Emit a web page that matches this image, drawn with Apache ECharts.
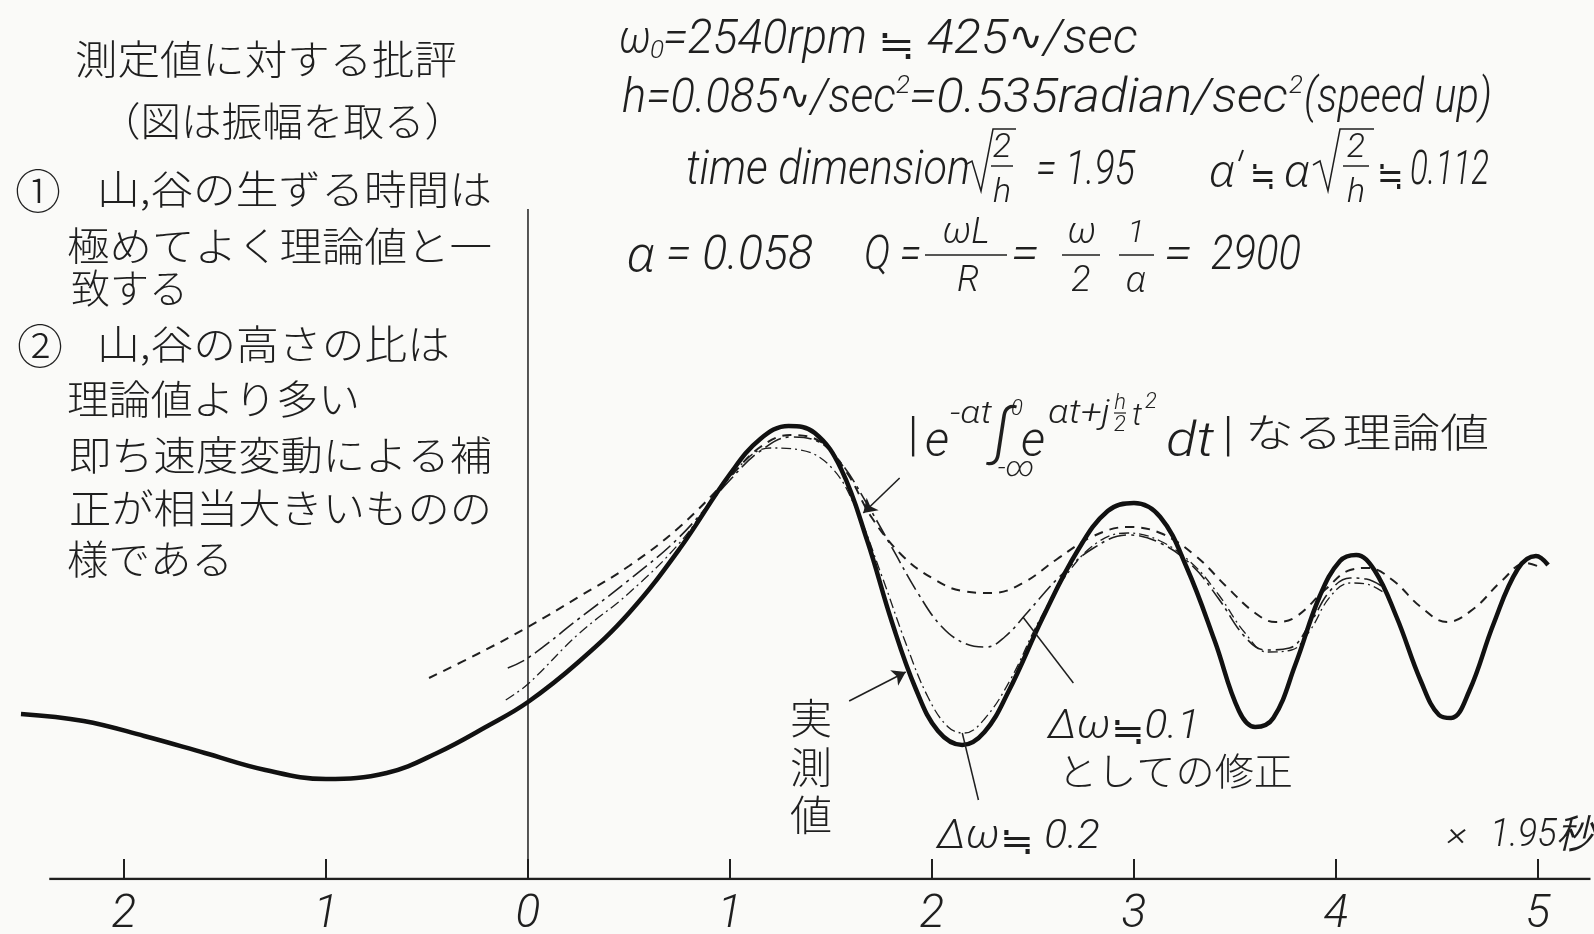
<!DOCTYPE html>
<html><head><meta charset="utf-8">
<script src="https://cdn.jsdelivr.net/npm/echarts@6/dist/echarts.min.js"></script>
<style>html,body{margin:0;padding:0;background:#fafaf8;}#c{width:1594px;height:934px;}</style>
</head><body><div id="c"></div>
<script>
// ---- data (x in units of 1.95 s, y arbitrary amplitude) ----
const xTickValues = [-2, -1, 0, 1, 2, 3, 4, 5];
const measured = [[-2.51,1.65],[-2.20,1.58],[-1.90,1.43],[-1.60,1.26],[-1.30,1.09],[-1.00,1.00],[-0.70,1.06],[-0.45,1.26],[-0.20,1.53],[0.00,1.77],[0.25,2.17],[0.50,2.66],[0.75,3.30],[1.00,4.05],[1.15,4.40],[1.29,4.53],[1.42,4.46],[1.55,4.10],[1.68,3.38],[1.80,2.58],[1.92,1.90],[2.03,1.48],[2.15,1.34],[2.26,1.47],[2.38,1.88],[2.55,2.62],[2.72,3.28],[2.87,3.68],[3.00,3.76],[3.13,3.62],[3.26,3.12],[3.40,2.38],[3.52,1.68],[3.60,1.52],[3.69,1.61],[3.80,2.15],[3.92,2.83],[4.02,3.18],[4.10,3.24],[4.19,3.09],[4.30,2.62],[4.42,1.98],[4.51,1.64],[4.57,1.61],[4.66,1.88],[4.78,2.55],[4.90,3.10],[4.99,3.23],[5.05,3.14]];
const theory = [[-0.49,2.01],[-0.25,2.25],[0.00,2.52],[0.25,2.82],[0.50,3.13],[0.75,3.52],[1.00,4.02],[1.15,4.32],[1.30,4.44],[1.45,4.37],[1.58,4.06],[1.70,3.62],[1.85,3.24],[2.00,3.01],[2.15,2.88],[2.30,2.86],[2.45,2.96],[2.62,3.20],[2.80,3.43],[2.97,3.52],[3.13,3.46],[3.30,3.24],[3.46,2.92],[3.60,2.66],[3.70,2.57],[3.80,2.62],[3.95,2.90],[4.07,3.09],[4.16,3.11],[4.28,2.99],[4.42,2.72],[4.55,2.57],[4.68,2.70],[4.82,2.98],[4.94,3.16],[5.01,3.12]];
const corr01 = [[-0.10,2.11],[0.00,2.21],[0.25,2.60],[0.50,2.99],[0.75,3.42],[1.00,3.99],[1.15,4.28],[1.30,4.42],[1.43,4.38],[1.55,4.16],[1.67,3.78],[1.80,3.32],[1.93,2.86],[2.05,2.52],[2.17,2.35],[2.27,2.32],[2.36,2.42],[2.47,2.66],[2.63,3.02],[2.80,3.31],[2.97,3.44],[3.13,3.36],[3.29,3.13],[3.42,2.80],[3.55,2.42],[3.65,2.29],[3.77,2.31],[3.87,2.55],[3.97,2.88],[4.07,3.01],[4.15,3.00],[4.24,2.91]];
const corr02 = [[-0.11,1.79],[0.00,1.95],[0.25,2.45],[0.50,2.86],[0.75,3.36],[1.00,4.02],[1.20,4.31],[1.35,4.29],[1.50,4.12],[1.62,3.72],[1.75,3.04],[1.87,2.36],[1.98,1.82],[2.08,1.52],[2.16,1.46],[2.26,1.60],[2.39,2.00],[2.53,2.58],[2.68,3.08],[2.83,3.38],[2.97,3.46],[3.13,3.38],[3.29,3.15],[3.42,2.84],[3.55,2.46],[3.66,2.27],[3.78,2.29],[3.87,2.48],[3.97,2.82],[4.07,2.96],[4.15,2.95],[4.24,2.86]];
const baseLine = [[-2.37,0],[5.26,0]];
const zeroLine = [[0,0],[0,6.70]];
const leaderTheory = [[1.84,4.01],[1.66,3.66]];
const leaderMeasured = [[1.59,1.78],[1.87,2.07]];
const leader01 = [[2.70,1.96],[2.45,2.62]];
const leader02 = [[2.23,0.79],[2.15,1.46]];

// ---- text helpers ----
const INK = '#1f1f1f';
const LAT = 'Roboto, "Noto Sans", sans-serif';
const NS = '"Noto Sans", Roboto, sans-serif';
const DV = '"DejaVu Sans", sans-serif';
const JP = '"Noto Sans CJK JP", sans-serif';
const mctx = document.createElement('canvas').getContext('2d');
function fontStr(size, fam, italic, weight) {
  return (italic ? 'italic ' : '') + weight + ' ' + size + 'px ' + fam;
}
function fit(text, x0, x1, yc, size, fam, italic, weight) {
  fam = fam || LAT; if (italic === undefined) italic = true; weight = weight || 300;
  const font = fontStr(size, fam, italic, weight);
  mctx.font = font;
  const w = mctx.measureText(text).width;
  const sx = x1 ? (x1 - x0) / w : 1;
  return {type:'text', x:x0, y:yc, scaleX:sx, silent:true, z:100,
    style:{text:text, font:font, fill:INK, align:'left', verticalAlign:'middle'}};
}
// sequence of pieces in different fonts, jointly fitted into [x0, x1]
function fitSeq(pieces, x0, x1, yc, size) {
  const fonts = pieces.map(p => fontStr(p.size || size, p.fam || LAT, p.it === undefined ? true : p.it, p.w || 300));
  const widths = pieces.map((p, i) => { mctx.font = fonts[i]; return mctx.measureText(p.t).width; });
  const total = widths.reduce((a, b) => a + b, 0);
  const sx = (x1 - x0) / total;
  let x = x0;
  pieces.forEach((p, i) => {
    g.push({type:'text', x:x, y:yc + (p.dy || 0), scaleX:sx, silent:true, z:100,
      style:{text:p.t, font:fonts[i], fill:INK, align:'left', verticalAlign:'middle'}});
    x += widths[i] * sx;
  });
}
function ct(text, xc, yc, size, fam, italic, weight) {
  fam = fam || LAT; if (italic === undefined) italic = true; weight = weight || 300;
  return {type:'text', x:xc, y:yc, silent:true, z:100,
    style:{text:text, font:fontStr(size, fam, italic, weight), fill:INK, align:'center', verticalAlign:'middle'}};
}
function ln(x1, y1, x2, y2, w) {
  return {type:'line', silent:true, z:100, shape:{x1:x1,y1:y1,x2:x2,y2:y2}, style:{stroke:INK, lineWidth:w||1.5}};
}
function pl(pts, w) {
  return {type:'polyline', silent:true, z:100, shape:{points:pts}, style:{stroke:INK, fill:null, lineWidth:w||1.5}};
}
const WAVE = {t:'∿', fam:DV, it:false, w:400, size:40, dy:-1};
const APX = {t:'≒', fam:JP, it:false, w:300, size:42, dy:2};
function alpha(xc, yc, size) { return ct('α', xc, yc, size, NS, true, 300); }

const g = [];
// left comment block
const leftLines = [
  ['測定値に対する批評', 75, 457, 59],
  ['（図は振幅を取る）', 100, 465, 121],
  ['山,谷の生ずる時間は', 97, 492, 189],
  ['極めてよく理論値と一', 67, 492, 246],
  ['致する', 71, 188, 288],
  ['山,谷の高さの比は', 97, 450, 344],
  ['理論値より多い', 67, 360, 399],
  ['即ち速度変動による補', 69, 492, 455],
  ['正が相当大きいものの', 69, 492, 508],
  ['様である', 67, 233, 559]
];
leftLines.forEach(l => g.push(fit(l[0], l[1], l[2], l[3], 40, JP, false, 300)));
g.push(ct('①', 38, 191, 46, JP, false, 300));
g.push(ct('②', 40, 346, 46, JP, false, 300));

// formula line 1
g.push(fit('ω', 619, 651, 41, 48));
g.push(ct('0', 657, 51, 26));
g.push(fit('=2540rpm', 663, 867, 41, 48));
fitSeq([{t:' '}, APX, {t:' 425'}, WAVE, {t:'/sec'}], 866, 1138, 41, 48);
// line 2
fitSeq([{t:'h=0.085'}, WAVE, {t:'/sec'}], 622, 896, 100, 48);
g.push(ct('2', 903, 86, 26));
g.push(fit('=0.535radian/sec', 909, 1288, 100, 48));
g.push(ct('2', 1296, 86, 26));
g.push(fit('(speed up)', 1304, 1492, 100, 48));
// line 3
g.push(fit('time dimension', 686, 970, 172, 48));
g.push(pl([[965,165],[972,161],[981,191],[993,129],[1016,129]]));
g.push(ct('2', 1002, 148, 34));
g.push(ln(991, 166, 1013, 166));
g.push(ct('h', 1002, 193, 34));
g.push(fit('= 1.95', 1036, 1135, 172, 48));
g.push(alpha(1222, 174, 46));
g.push(ln(1243, 150, 1239, 161, 2));
g.push(fit('≒', 1250, 1276, 174, 40, JP, false, 300));
g.push(alpha(1297, 174, 46));
g.push(pl([[1313,165],[1320,161],[1328,191],[1340,129],[1374,129]]));
g.push(ct('2', 1356, 148, 34));
g.push(ln(1343, 166, 1369, 166));
g.push(ct('h', 1356, 193, 34));
g.push(fit('≒', 1377, 1404, 174, 40, JP, false, 300));
g.push(fit('0.112', 1410, 1489, 172, 48));
// line 4
g.push(alpha(641, 258, 50));
g.push(fit('= 0.058', 666, 813, 257, 48));
g.push(fit('Q =', 864, 921, 257, 48));
g.push(ct('ωL', 966, 234, 36));
g.push(ln(925, 255, 1007, 255));
g.push(ct('R', 968, 282, 36));
g.push(fit('=', 1011, 1039, 257, 48));
g.push(ct('ω', 1082, 234, 36));
g.push(ln(1062, 255, 1100, 255));
g.push(ct('2', 1081, 282, 36));
g.push(ct('1', 1136, 234, 32));
g.push(ln(1119, 255, 1154, 255));
g.push(alpha(1136, 282, 36));
g.push(fit('=', 1164, 1192, 257, 48));
g.push(fit('2900', 1211, 1301, 257, 48));

// theoretical formula label
g.push(ct('|', 913, 438, 48, LAT, false));
g.push(ct('e', 937, 444, 48));
g.push(fit('-αt', 950, 992, 415, 32));
g.push(ct('∫', 1002, 436, 62));
g.push(ct('0', 1017, 409, 22));
g.push(ct('-∞', 1016, 469, 28));
g.push(ct('e', 1033, 444, 48));
g.push(fit('αt+j', 1048, 1110, 414, 34));
g.push(ct('h', 1120, 403, 22));
g.push(ln(1114, 413, 1126, 413, 1.2));
g.push(ct('2', 1120, 425, 22));
g.push(ct('t', 1137, 417, 32));
g.push(ct('2', 1151, 402, 22));
g.push(fit('dt', 1166, 1214, 444, 48));
g.push(ct('|', 1228, 438, 48, LAT, false));
g.push(fit('なる理論値', 1245, 1489, 432, 40, JP, false, 300));

// measured label (vertical)
g.push(ct('実', 811, 718, 42, JP, false, 300));
g.push(ct('測', 811, 767, 42, JP, false, 300));
g.push(ct('値', 811, 815, 42, JP, false, 300));
// correction labels
fitSeq([{t:'Δω'}, Object.assign({}, APX, {size:38}), {t:'0.1'}], 1048, 1200, 728, 40);
g.push(fit('としての修正', 1058, 1293, 771, 38, JP, false, 300));
fitSeq([{t:'Δω'}, Object.assign({}, APX, {size:38}), {t:' 0.2'}], 937, 1100, 838, 40);
g.push(fit('×', 1447, 1467, 836, 34));
g.push(fit('1.95秒', 1490, 1593, 836, 38));

const chart = echarts.init(document.getElementById('c'), null, {renderer:'canvas'});
const lineBase = {type:'line', symbol:'none', silent:true, animation:false};
chart.setOption({
  backgroundColor:'#fafaf8',
  animation:false,
  grid:{left:12.9, right:1.5, top:179, bottom:55, containLabel:false, outerBoundsMode:'none'},
  xAxis:{type:'value', min:-2.55, max:5.27,
    axisLine:{show:false}, splitLine:{show:false},
    axisTick:{show:true, inside:true, length:20, customValues:xTickValues, lineStyle:{color:INK, width:2}},
    axisLabel:{show:true, customValues:xTickValues, formatter:v => String(Math.abs(v)),
      fontSize:46, fontStyle:'italic', fontWeight:300, fontFamily:'Roboto', color:INK, margin:13}},
  yAxis:{type:'value', min:0, max:7, show:false},
  series:[
    Object.assign({}, lineBase, {name:'base', data:baseLine, lineStyle:{color:INK, width:2.6}, z:3}),
    Object.assign({}, lineBase, {name:'t0', data:zeroLine, lineStyle:{color:INK, width:1.5}, z:3}),
    Object.assign({}, lineBase, {name:'理論値', data:theory, smooth:0.4, lineStyle:{color:INK, width:2, type:[9,7]}, z:4}),
    Object.assign({}, lineBase, {name:'Δω≒0.1', data:corr01, smooth:0.4, lineStyle:{color:INK, width:1.6, type:[18,5,3,5]}, z:4}),
    Object.assign({}, lineBase, {name:'Δω≒0.2', data:corr02, smooth:0.4, lineStyle:{color:INK, width:1.3, type:[10,4,2,4]}, z:4}),
    Object.assign({}, lineBase, {name:'実測値', data:measured, smooth:0.4, lineStyle:{color:'#111', width:4.5}, z:6}),
    {type:'lines', coordinateSystem:'cartesian2d', silent:true, animation:false, z:7,
      symbol:['none','arrow'], symbolSize:13,
      lineStyle:{color:INK, width:1.6, curveness:0, opacity:1},
      data:[{coords:leaderTheory},{coords:leaderMeasured}]},
    {type:'lines', coordinateSystem:'cartesian2d', silent:true, animation:false, z:7,
      symbol:'none', lineStyle:{color:INK, width:1.5, curveness:0, opacity:1},
      data:[{coords:leader01},{coords:leader02}]}
  ],
  graphic:g
});
</script></body></html>
